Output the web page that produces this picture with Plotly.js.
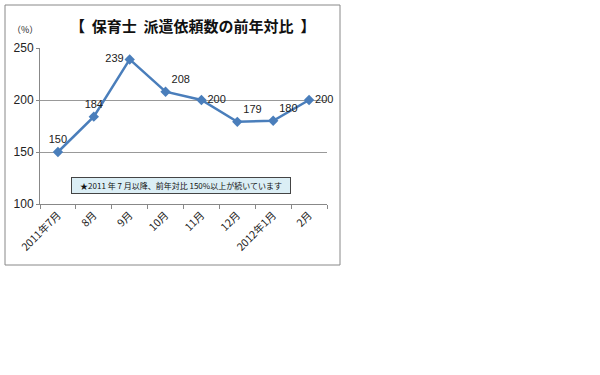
<!DOCTYPE html>
<html><head><meta charset="utf-8">
<script src="https://cdn.plot.ly/plotly-3.0.1.min.js"></script>
<style>body{margin:0;background:#fff}#c{width:600px;height:375px}</style>
</head><body><div id="c"></div>
<script>
const categories = ["2011年7月","8月","9月","10月","11月","12月","2012年1月","2月"];
const values = [150,184,239,208,200,179,180,200];
const labelPositions = ["top center","top center","middle left","top right","middle right","top right","top right","middle right"];
const yTicks = [100,150,200,250];
const titleText = "【&nbsp;&nbsp;保育士&nbsp;&nbsp;派遣依頼数の前年対比&nbsp;&nbsp;】";
const noteText = "★2011 年 7 月以降、前年対比 150%以上が続いています";

const L=40,R=327,T=48,B=204,W=600,H=375;
const px = x => (x-L)/(R-L);
const py = y => (B-y)/(B-T);
const font = '"Liberation Sans", "Noto Sans CJK JP", sans-serif';
const jfont = '"Noto Sans CJK JP", sans-serif';

const trace = {
  type:'scatter', mode:'lines+markers+text',
  x:categories, y:values,
  text:values.map(String), textposition:labelPositions,
  textfont:{family:font,size:11,color:'#222'},
  line:{color:'#4a7ebb',width:2.5},
  marker:{symbol:'diamond',size:8,color:'#4a7ebb'},
  cliponaxis:false, hoverinfo:'skip'
};
const layout = {
  width:W,height:H,
  margin:{l:L,r:W-R,t:T,b:H-B,pad:0},
  paper_bgcolor:'#fff',plot_bgcolor:'#fff',
  showlegend:false,
  xaxis:{type:'category',tickson:'boundaries',ticks:'outside',ticklen:4,tickcolor:'#888',
    showgrid:false,showline:true,linecolor:'#888',linewidth:1,tickangle:-45,
    tickfont:{family:jfont,size:10.5,color:'#222'},range:[-0.5,7.5],fixedrange:true},
  yaxis:{range:[100,250],tickvals:yTicks,ticks:'outside',ticklen:3,tickcolor:'#888',
    showgrid:true,gridcolor:'#999',gridwidth:1,showline:true,linecolor:'#888',zeroline:false,
    tickfont:{family:font,size:12,color:'#222'},fixedrange:true},
  shapes:[
    {type:'rect',xref:'paper',yref:'paper',x0:px(5),x1:px(340),y0:py(265),y1:py(5),
     line:{color:'#888',width:1},fillcolor:'rgba(0,0,0,0)',layer:'below'}
  ],
  annotations:[
    {xref:'paper',yref:'paper',x:px(192),y:py(25),text:'<b>'+titleText+'</b>',showarrow:false,
     font:{family:jfont,size:15,color:'#111'},xanchor:'center',yanchor:'middle'},
    {xref:'paper',yref:'paper',x:px(10),y:py(30),text:'（%）',showarrow:false,
     font:{family:jfont,size:9,color:'#222'},xanchor:'left',yanchor:'middle'},
    {xref:'paper',yref:'paper',x:px(181),y:py(185),text:noteText,showarrow:false,
     font:{family:jfont,size:8,color:'#111'},xanchor:'center',yanchor:'middle',
     bgcolor:'#dbeef5',bordercolor:'#444',borderwidth:1,borderpad:2,width:214}
  ]
};
Plotly.newPlot('c',[trace],layout,{staticPlot:true});
</script></body></html>
